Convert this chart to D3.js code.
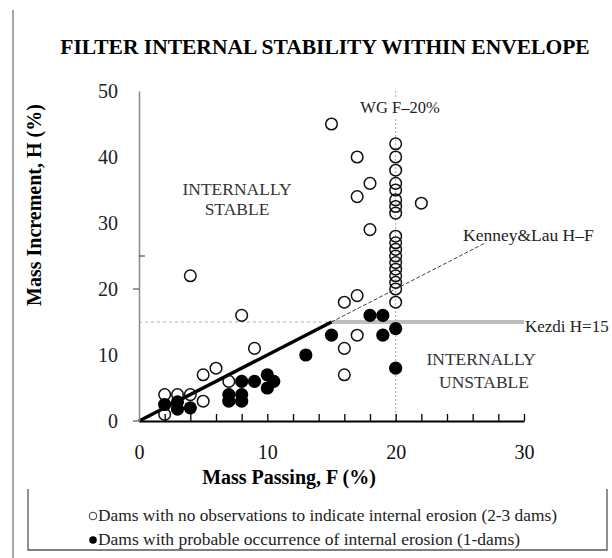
<!DOCTYPE html>
<html>
<head>
<meta charset="utf-8">
<script src="https://d3js.org/d3.v7.min.js"></script>
<style>
  body { margin: 0; background: #fff; }
  text { font-family: "Liberation Serif", "Times New Roman", serif; }
</style>
</head>
<body>
<div class="graph"></div>
<script>

// data (F = mass passing %, H = mass increment %)

var openF = [2, 2, 3, 4, 5, 5, 6, 7, 9, 8, 4,
             15, 17, 18, 17, 22, 18, 16, 17, 17, 16, 16,
             20, 20, 20, 20, 20, 20, 20, 20, 20, 20, 20, 20, 20, 20, 20, 20, 20, 20];
var openH = [1, 4, 4, 4, 3, 7, 8, 6, 11, 16, 22,
             45, 40, 36, 34, 33, 29, 18, 19, 13, 11, 7,
             18, 20, 21, 22, 23, 24, 25, 26, 27, 28, 31.5, 32.5, 33.5, 35, 36, 38, 40, 42];

var filledF = [2, 3, 3, 4, 7, 8, 7, 8, 8, 9, 10, 10, 10.5, 13, 15, 18, 19, 19, 20, 20];
var filledH = [2.5, 2.9, 1.8, 2, 4, 4, 3, 3, 6, 6, 7, 5, 6, 10, 13, 16, 16, 13, 14, 8];

var xTicks = [0, 10, 20, 30];
var xMinorTicks = [2, 4, 6, 8, 10, 12, 14, 16, 18, 20, 22, 24, 26, 28, 30];
var yTicks = [0, 10, 20, 30, 40, 50];
var yTicksOut = [0, 20];
var yTicksIn = [25];

var kezdiH = 15;      // Kezdi criterion
var wgF = 20;         // WG criterion
var kenneyEnd = 27;   // end of dashed H=F line

var legendLabels = [
	"Dams with no observations to indicate internal erosion (2-3 dams)",
	"Dams with probable occurrence of internal erosion (1-dams)"
];
var legendWidths = [459, 422];

//prepare SVG

var svgWidth = 612;
var svgHeight = 558;

var svg = d3.select("div.graph")
		.append("svg")
		.attr("width", svgWidth)
		.attr("height", svgHeight)
		.style("background-color", "#ffffff");

var x = d3.scaleLinear().domain([0, 30]).range([139, 524]);
var y = d3.scaleLinear().domain([0, 50]).range([421, 91]);

// page border on the left
svg.append("line")
	.attr("x1", 13).attr("x2", 13)
	.attr("y1", 10).attr("y2", svgHeight)
	.attr("stroke", "#8a8a8a").attr("stroke-width", 1.5);

// title
svg.append("text")
	.attr("x", 325).attr("y", 54)
	.attr("text-anchor", "middle")
	.style("font-size", "21.5px").style("font-weight", "bold")
	.text("FILTER INTERNAL STABILITY WITHIN ENVELOPE");

// reference lines
var gLines = svg.append("g");

// WG F=20% vertical dotted
gLines.append("line")
	.attr("x1", x(wgF)).attr("x2", x(wgF))
	.attr("y1", y(50)).attr("y2", y(0))
	.attr("stroke", "#aaaaaa").attr("stroke-width", 1)
	.attr("stroke-dasharray", "2,2");

// Kezdi thin dashed part
gLines.append("line")
	.attr("x1", x(0)).attr("x2", x(kezdiH))
	.attr("y1", y(kezdiH)).attr("y2", y(kezdiH))
	.attr("stroke", "#b0b0b0").attr("stroke-width", 1)
	.attr("stroke-dasharray", "3,3");

// Kezdi thick grey part
gLines.append("line")
	.attr("x1", x(kezdiH)).attr("x2", x(30))
	.attr("y1", y(kezdiH)).attr("y2", y(kezdiH))
	.attr("stroke", "#bdbdbd").attr("stroke-width", 4);

// Kenney & Lau H=F dashed
gLines.append("line")
	.attr("x1", x(0)).attr("x2", x(kenneyEnd))
	.attr("y1", y(0)).attr("y2", y(kenneyEnd))
	.attr("stroke", "#444444").attr("stroke-width", 1)
	.attr("stroke-dasharray", "4,2");

// envelope solid segment
gLines.append("line")
	.attr("x1", x(0)).attr("x2", x(kezdiH))
	.attr("y1", y(0)).attr("y2", y(kezdiH))
	.attr("stroke", "#000").attr("stroke-width", 3.5);

// axes
var gAxisX = svg.append("g").attr("transform", "translate(0," + y(0) + ")");
gAxisX.call(d3.axisBottom(x).tickValues(xMinorTicks).tickSize(-7).tickSizeOuter(0).tickFormat(""));
gAxisX.select(".domain").attr("stroke", "#000").attr("stroke-width", 2);
gAxisX.selectAll(".tick line").attr("stroke", "#000").attr("stroke-width", 1.3);

var gXLabels = svg.append("g").attr("transform", "translate(0," + y(0) + ")");
gXLabels.call(d3.axisBottom(x).tickValues(xTicks).tickSize(0).tickPadding(24).tickFormat(d3.format("d")));
gXLabels.select(".domain").remove();
gXLabels.selectAll("text")
	.style("font-family", "'Liberation Serif', serif")
	.style("font-size", "20px").attr("fill", "#111");

var gAxisY = svg.append("g").attr("transform", "translate(" + x(0) + ",0)");
gAxisY.call(d3.axisLeft(y).tickValues(yTicks).tickSize(0).tickPadding(21).tickFormat(d3.format("d")));
gAxisY.select(".domain").attr("stroke", "#8a8a8a").attr("stroke-width", 1.5);
gAxisY.selectAll("text")
	.style("font-family", "'Liberation Serif', serif")
	.style("font-size", "20px").attr("fill", "#222");

gAxisY.selectAll("line.out")
	.data(yTicksOut).enter().append("line")
	.attr("x1", -6).attr("x2", 0)
	.attr("y1", function(d) { return y(d); }).attr("y2", function(d) { return y(d); })
	.attr("stroke", "#333").attr("stroke-width", 1);

gAxisY.selectAll("line.in")
	.data(yTicksIn).enter().append("line")
	.attr("x1", 0).attr("x2", 6)
	.attr("y1", function(d) { return y(d); }).attr("y2", function(d) { return y(d); })
	.attr("stroke", "#333").attr("stroke-width", 1);

// axis titles
svg.append("text")
	.attr("x", 289).attr("y", 484)
	.attr("text-anchor", "middle")
	.style("font-size", "20px").style("font-weight", "bold")
	.text("Mass Passing, F (%)");

svg.append("text")
	.attr("transform", "translate(41,205) rotate(-90)")
	.attr("text-anchor", "middle")
	.style("font-size", "20px").style("font-weight", "bold")
	.text("Mass Increment, H (%)");

// points
var openData = openF.map(function(f, i) { return {f: f, h: openH[i]}; });
var filledData = filledF.map(function(f, i) { return {f: f, h: filledH[i]}; });

svg.append("g").selectAll("circle")
	.data(openData).enter().append("circle")
	.attr("cx", function(d) { return x(d.f); })
	.attr("cy", function(d) { return y(d.h); })
	.attr("r", 5.8)
	.attr("fill", "none")
	.attr("stroke", "#111").attr("stroke-width", 1.5);

svg.append("g").selectAll("circle")
	.data(filledData).enter().append("circle")
	.attr("cx", function(d) { return x(d.f); })
	.attr("cy", function(d) { return y(d.h); })
	.attr("r", 6.6)
	.attr("fill", "#000");

// annotations
var wgLabel = svg.append("g");
wgLabel.append("rect")
	.attr("x", 361).attr("y", 97).attr("width", 78).attr("height", 21)
	.attr("fill", "#fff");
wgLabel.append("text")
	.attr("x", 400).attr("y", 113)
	.attr("text-anchor", "middle")
	.style("font-size", "16.5px").attr("fill", "#222")
	.text("WG F\u201320%");

svg.append("text")
	.attr("x", 463).attr("y", 241)
	.style("font-size", "17.5px").attr("fill", "#222")
	.text("Kenney&Lau H\u2013F");

svg.append("text")
	.attr("x", 525).attr("y", 332)
	.style("font-size", "17px").attr("fill", "#222")
	.text("Kezdi H=15");

var regionText = svg.append("g")
	.style("font-size", "17.5px").attr("fill", "#333")
	.attr("text-anchor", "middle");
regionText.append("text").attr("x", 237).attr("y", 195).text("INTERNALLY");
regionText.append("text").attr("x", 237).attr("y", 215).text("STABLE");
regionText.append("text").attr("x", 481).attr("y", 365).text("INTERNALLY");
regionText.append("text").attr("x", 484).attr("y", 388).text("UNSTABLE");

// legend box
var gLegend = svg.append("g");
gLegend.append("path")
	.attr("d", "M28,489 V550 H607 V489")
	.attr("fill", "none")
	.attr("stroke", "#555").attr("stroke-width", 1.3);

var legendRows = gLegend.selectAll("g.row")
	.data(legendLabels).enter().append("g")
	.attr("transform", function(d, i) { return "translate(0," + (521 + i * 24) + ")"; });

legendRows.append("circle")
	.attr("cx", 93).attr("cy", -5)
	.attr("r", 3.8)
	.attr("fill", function(d, i) { return i === 0 ? "none" : "#000"; })
	.attr("stroke", function(d, i) { return i === 0 ? "#333" : "none"; })
	.attr("stroke-width", 1);

legendRows.append("text")
	.attr("x", 98).attr("y", 0)
	.attr("textLength", function(d, i) { return legendWidths[i]; })
	.attr("lengthAdjust", "spacingAndGlyphs")
	.style("font-size", "16px").attr("fill", "#222")
	.text(function(d) { return d; });

</script>
</body>
</html>
